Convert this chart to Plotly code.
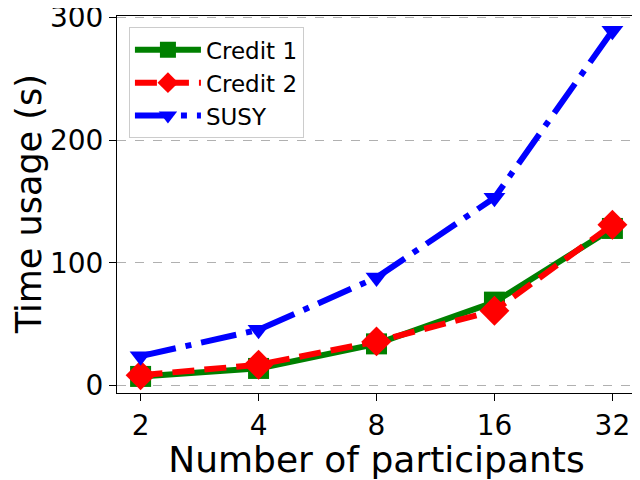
import plotly.graph_objects as go

participants = ["2", "4", "8", "16", "32"]
credit1 = [7.5, 14, 34, 68, 128]
credit2 = [8.5, 17, 36, 61, 131]
susy = [24, 45.5, 88, 153, 289]

fig = go.Figure()
fig.add_trace(go.Scatter(x=participants, y=credit1, name="Credit 1", mode="lines+markers",
                         line=dict(color="green", width=6),
                         marker=dict(symbol="square", size=21, color="green")))
fig.add_trace(go.Scatter(x=participants, y=credit2, name="Credit 2", mode="lines+markers",
                         line=dict(color="red", width=6, dash="22px,10px"),
                         marker=dict(symbol="diamond", size=23, color="red")))
fig.add_trace(go.Scatter(x=participants, y=susy, name="SUSY", mode="lines+markers",
                         line=dict(color="blue", width=6, dash="36px,10px,6px,10px"),
                         marker=dict(symbol="triangle-down", size=19, color="blue")))

fig.update_layout(
    width=632, height=472,
    margin=dict(l=109, r=4, t=8, b=87, autoexpand=False),
    paper_bgcolor="white", plot_bgcolor="white",
    font=dict(family="DejaVu Sans", color="black"),
    legend=dict(x=0.023, y=0.97, xanchor="left", yanchor="top",
                bgcolor="rgba(255,255,255,0.8)", bordercolor="#cccccc", borderwidth=1,
                font=dict(size=23), itemwidth=66, tracegroupgap=0),
    showlegend=True,
    annotations=[dict(text="Time usage (s)", textangle=-90, xref="paper", yref="paper",
                      x=-0.17, y=0.5, xanchor="center", yanchor="middle",
                      showarrow=False, font=dict(size=35))],
)
fig.update_xaxes(type="category", range=[-0.2, 4.2], showgrid=False, automargin=False,
                 showline=True, linecolor="black", linewidth=1, mirror=True,
                 ticks="outside", ticklen=7, tickcolor="black",
                 tickfont=dict(size=28),
                 title=dict(text="Number of participants", font=dict(size=36), standoff=0))
fig.update_yaxes(range=[-6, 301], tickvals=[0, 100, 200, 300], automargin=False,
                 showgrid=True, gridcolor="#b0b0b0", griddash="dash", gridwidth=0.8,
                 zeroline=False, ticklabeloverflow="allow",
                 showline=True, linecolor="black", linewidth=1, mirror=True,
                 ticks="outside", ticklen=7, tickcolor="black",
                 tickfont=dict(size=28))

fig.write_html("out.html")
